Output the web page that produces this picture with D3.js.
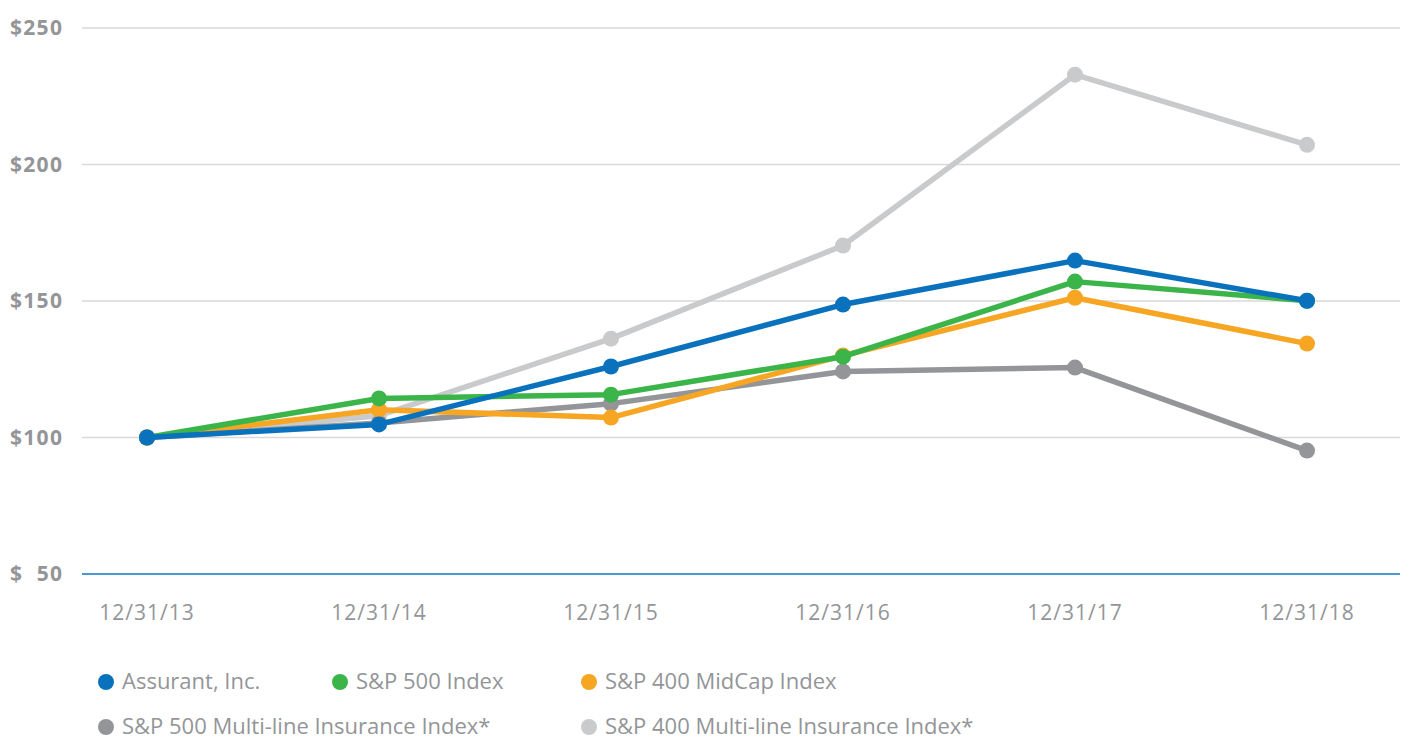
<!DOCTYPE html>
<html>
<head>
<meta charset="utf-8">
<script src="https://cdn.jsdelivr.net/npm/d3@7"></script>
<style>
  body { margin: 0; background: #fff; }
  svg text { font-family: "Open Sans", "Noto Sans", sans-serif; fill: #939598; }
</style>
</head>
<body>
<div id="chart"></div>
<script>
const dates = ["12/31/13", "12/31/14", "12/31/15", "12/31/16", "12/31/17", "12/31/18"];
const yTicks = [50, 100, 150, 200, 250];

const assurant = [100, 104.8, 126, 148.7, 164.8, 150.1];
const sp500 = [100, 114.3, 115.7, 129.6, 157.1, 150.1];
const midcap = [100, 110.2, 107.3, 130, 151.2, 134.4];
const multi500 = [100, 105.3, 112.4, 124.2, 125.6, 95.2];
const multi400 = [100, 108, 136.2, 170.3, 232.9, 207.2];

const seriesNames = ["Assurant, Inc.", "S&P 500 Index", "S&P 400 MidCap Index",
    "S&P 500 Multi-line Insurance Index*", "S&P 400 Multi-line Insurance Index*"];
const seriesColors = ["#0a72bd", "#3bb54a", "#f6a623", "#939598", "#c9cacc"];
const seriesValues = [assurant, sp500, midcap, multi500, multi400];

const width = 1405, height = 742;
const svg = d3.select("#chart").append("svg")
    .attr("width", width)
    .attr("height", height);

const x = d3.scalePoint().domain(dates).range([147, 1307]);
const y = d3.scaleLinear().domain([50, 250]).range([574, 28]);

// gridlines
svg.append("g")
    .selectAll("line")
    .data(yTicks.filter(d => d > 50))
    .enter()
    .append("line")
    .attr("x1", 82).attr("x2", 1400)
    .attr("y1", d => y(d)).attr("y2", d => y(d))
    .attr("stroke", "#d9d9d9")
    .attr("stroke-width", 1.3);

// base line
svg.append("line")
    .attr("x1", 82).attr("x2", 1400)
    .attr("y1", y(50)).attr("y2", y(50))
    .attr("stroke", "#0a77c2")
    .attr("stroke-width", 1.5);

// y labels
svg.append("g")
    .selectAll("text")
    .data(yTicks)
    .enter()
    .append("text")
    .attr("x", 10)
    .attr("y", d => y(d) + 7)
    .style("font-size", "21px")
    .style("font-weight", "bold")
    .style("letter-spacing", "1.3px")
    .attr("xml:space", "preserve")
    .text(d => d == 50 ? "$  50" : "$" + d);

// x labels
svg.append("g")
    .selectAll("text")
    .data(dates)
    .enter()
    .append("text")
    .attr("x", d => x(d))
    .attr("y", 620)
    .attr("text-anchor", "middle")
    .style("font-size", "21px")
    .style("letter-spacing", "1px")
    .text(d => d);

// lines, back to front
const order = [4, 3, 2, 1, 0];
const line = d3.line()
    .x((d, i) => x(dates[i]))
    .y(d => y(d));

for (const k of order) {
    const g = svg.append("g");
    g.append("path")
        .attr("d", line(seriesValues[k]))
        .attr("fill", "none")
        .attr("stroke", seriesColors[k])
        .attr("stroke-width", 5.5)
        .attr("stroke-linejoin", "round");
    g.selectAll("circle")
        .data(seriesValues[k])
        .enter()
        .append("circle")
        .attr("cx", (d, i) => x(dates[i]))
        .attr("cy", d => y(d))
        .attr("r", 8)
        .attr("fill", seriesColors[k]);
}

// legend
const legendPos = [[106, 682], [340, 682], [589, 682], [106, 727], [589, 727]];
const legend = svg.append("g")
    .selectAll("g")
    .data(seriesNames)
    .enter()
    .append("g")
    .attr("transform", (d, i) => `translate(${legendPos[i][0]}, ${legendPos[i][1]})`);
legend.append("circle")
    .attr("r", 8)
    .attr("fill", (d, i) => seriesColors[i]);
legend.append("text")
    .attr("x", 16)
    .attr("y", 7)
    .style("font-size", "22px")
    .text(d => d);
</script>
</body>
</html>
